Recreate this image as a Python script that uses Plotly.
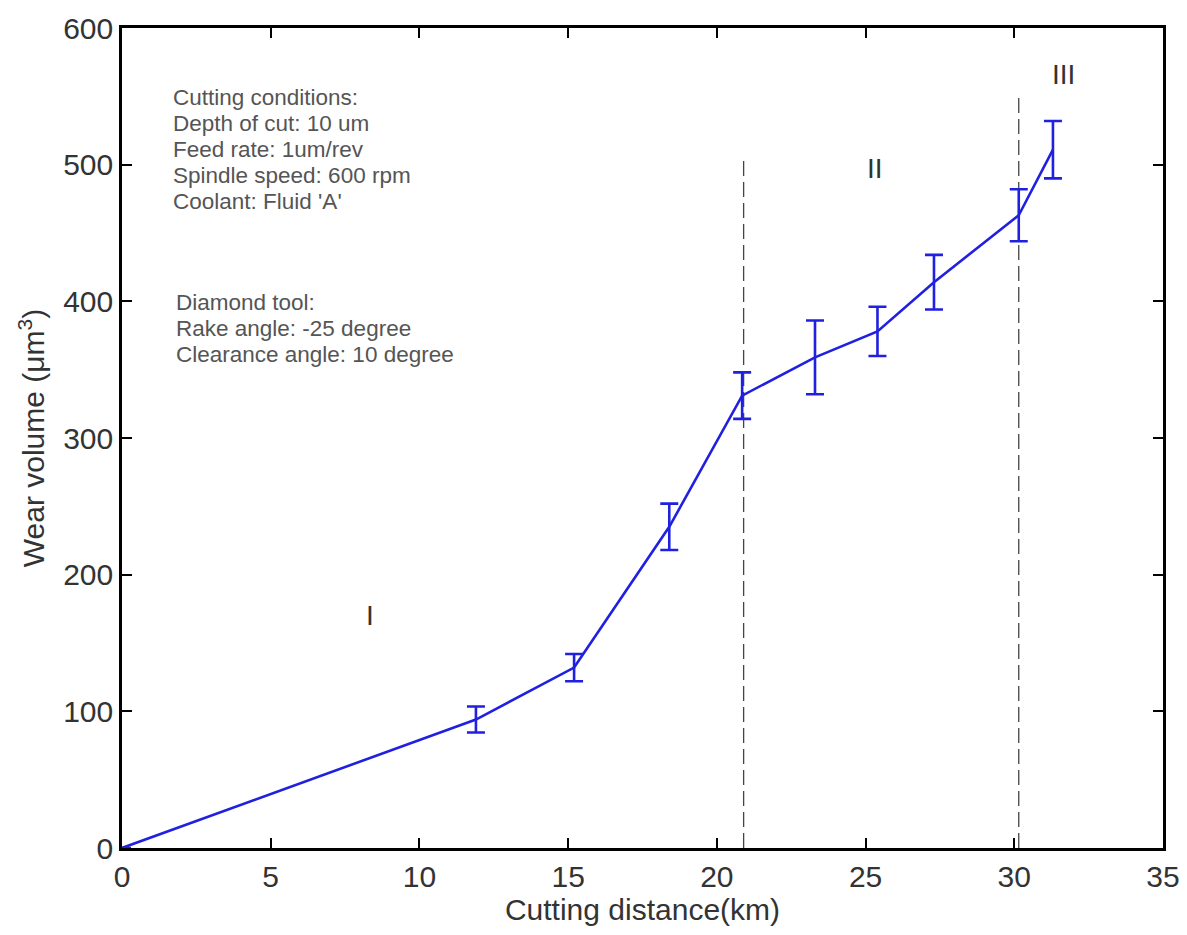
import plotly.graph_objects as go

# Data
distance_km = [0, 11.9, 15.2, 18.4, 20.85, 23.3, 25.4, 27.3, 30.15, 31.3]
wear_volume = [0, 94, 132, 235, 331, 359, 378, 414, 463, 511]
wear_error = [0, 9.5, 10, 17, 17, 27, 18, 20, 19, 21]

region_bounds = [20.9, 30.15]
region_tops = [507, 552]
region_labels = ["I", "II", "III"]
region_label_x = [8.34, 25.32, 31.64]
region_label_y = [170, 497, 566]

x_ticks = [0, 5, 10, 15, 20, 25, 30, 35]
y_ticks = [0, 100, 200, 300, 400, 500, 600]

conditions_text = ["Cutting conditions:", "Depth of cut: 10 um", "Feed rate: 1um/rev",
                   "Spindle speed: 600 rpm", "Coolant: Fluid 'A'"]
tool_text = ["Diamond tool:", "Rake angle: -25 degree", "Clearance angle: 10 degree"]

FONT = "Liberation Sans, Arial, sans-serif"
BLUE = "#2020e0"
TEXT = "#333333"
fig = go.Figure()

for xb, top in zip(region_bounds, region_tops):
    fig.add_trace(go.Scatter(x=[xb, xb], y=[0, top], mode="lines",
                             line=dict(color="#444444", width=1.3, dash="15px,6px"),
                             showlegend=False, hoverinfo="skip"))

fig.add_trace(go.Scatter(
    x=distance_km, y=wear_volume, mode="lines",
    line=dict(color=BLUE, width=2.6),
    error_y=dict(type="data", array=wear_error, color=BLUE, thickness=2.6, width=9),
    showlegend=False))

for lab, lx, ly in zip(region_labels, region_label_x, region_label_y):
    fig.add_annotation(x=lx, y=ly, text=lab, showarrow=False,
                       font=dict(family=FONT, size=28, color=TEXT))

for i, line in enumerate(conditions_text):
    fig.add_annotation(x=1.65, y=549, yshift=-26 * i, text=line, showarrow=False,
                       xanchor="left", yanchor="middle",
                       font=dict(family=FONT, size=22.5, color="#555555"))
for i, line in enumerate(tool_text):
    fig.add_annotation(x=1.75, y=399.5, yshift=-26 * i, text=line, showarrow=False,
                       xanchor="left", yanchor="middle",
                       font=dict(family=FONT, size=22.5, color="#555555"))

axis_common = dict(showgrid=False, zeroline=False, showline=True, linecolor="black",
                   linewidth=2.5, mirror="allticks", ticks="inside", ticklen=10,
                   tickwidth=2, tickcolor="black", automargin=False,
                   tickfont=dict(family=FONT, size=30, color=TEXT))

fig.update_xaxes(range=[0, 35], tickvals=x_ticks,
                 title=dict(text="Cutting distance(km)", standoff=2,
                            font=dict(family=FONT, size=30, color=TEXT)),
                 **axis_common)
fig.update_yaxes(range=[0, 600], tickvals=y_ticks,
                 title=dict(text="Wear volume (μm<sup>3</sup>)", standoff=10,
                            font=dict(family=FONT, size=30, color=TEXT)),
                 **axis_common)

fig.update_layout(width=1179, height=927, plot_bgcolor="white", paper_bgcolor="white",
                  margin=dict(l=114, r=24, t=20, b=87))

fig.write_html("out.html")
